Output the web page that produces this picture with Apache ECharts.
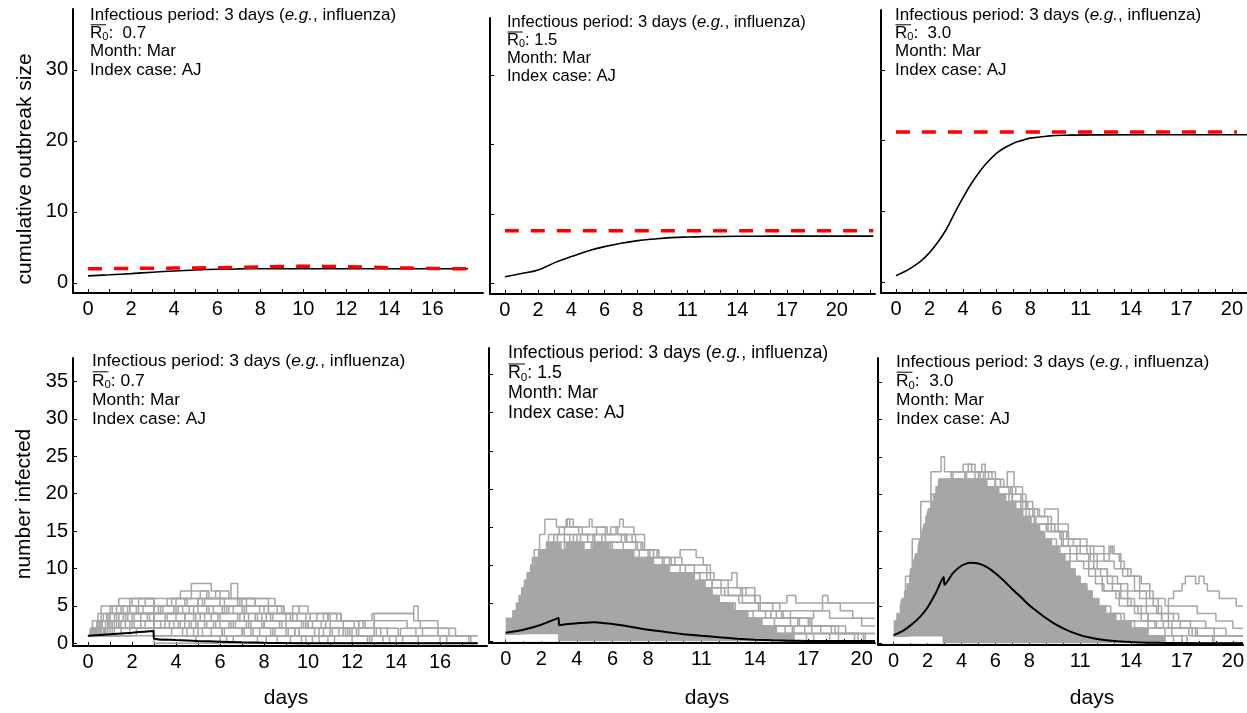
<!DOCTYPE html>
<html>
<head>
<meta charset="utf-8">
<script src="https://cdn.jsdelivr.net/npm/echarts@6/dist/echarts.min.js"></script>
<style>
  html, body { margin: 0; background: #fff; }
  #chart { width: 1247px; height: 713px; }
</style>
</head>
<body>
<div id="chart"></div>
<script>
// ---- top row: cumulative outbreak size (mean) and expected final size (red dashed)
const cumMean07 = [[0,1.0],[1,1.15],[2,1.32],[3,1.52],[4,1.69],[5,1.83],[6,1.93],[7,1.98],[8,2.0],[12,2.0],[17.65,2.0]];
const cumFinal07 = [[0,2.0],[2,2.05],[4,2.1],[6,2.15],[8,2.25],[10,2.35],[12,2.3],[14,2.15],[16,2.05],[17.65,2.0]];
const cumMean15 = [[0,0.95],[1,1.4],[2,1.92],[3,2.98],[4,3.85],[5,4.67],[6,5.29],[7,5.78],[8,6.16],[9,6.4],[10,6.59],[11,6.68],[12,6.73],[14,6.78],[16,6.8],[22.2,6.8]];
const cumFinal15 = [[0,7.6],[22.2,7.6]];
const cumMean30 = [[0,0.95],[0.5,1.5],[1,2.2],[1.5,3.05],[2,4.2],[2.5,5.7],[3,7.5],[3.5,9.8],[4,12.0],[4.5,14.0],[5,15.7],[5.5,17.1],[6,18.25],[6.5,19.05],[7,19.66],[7.5,20.05],[8,20.37],[9,20.65],[10,20.78],[12,20.83],[20.9,20.85]];
const cumFinal30 = [[0,21.25],[20.3,21.25]];

// ---- bottom row: number infected, mean (black) and single runs (grey)
const infMean07 = [[0,1.0],[1,1.2],[2,1.42],[2.97,1.65],[3.0,0.62],[4,0.45],[5,0.32],[6,0.22],[7,0.13],[8,0.06],[9,0.03],[10,0.02],[12,0.01],[14,0],[17.7,0]];
const infMean15 = [[0,1.1],[1,1.5],[2,2.15],[2.97,3.05],[3.0,2.1],[3.5,2.25],[4,2.35],[5,2.5],[6,2.25],[7,1.9],[8,1.5],[9,1.2],[10,0.92],[11,0.7],[12,0.5],[13,0.33],[14,0.2],[15,0.11],[16,0.06],[17,0.03],[18,0.02],[20.75,0.01]];
const infMean30 = [[0,1.1],[0.5,1.6],[1,2.4],[1.5,3.4],[2,4.8],[2.5,6.8],[2.95,8.9],[3.0,7.85],[3.5,9.4],[4,10.4],[4.5,10.8],[5,10.7],[5.5,10.2],[6,9.4],[6.5,8.4],[7,7.25],[7.5,6.2],[8,5.1],[8.5,4.2],[9,3.35],[9.5,2.6],[10,2.0],[10.5,1.5],[11,1.1],[11.5,0.8],[12,0.58],[13,0.3],[14,0.16],[15,0.08],[16,0.04],[18,0.01],[20.6,0]];

// densest part of the run cloud (upper edge), R0 1.5 and 3.0
const infCore15 = [[0,3],[0.4,4],[0.6,5],[0.75,6],[0.9,7],[1.05,8],[1.2,9],[1.4,10],[1.6,11],[1.85,12],[2.3,13],[3.1,12],[3.4,13],[4.4,12],[4.9,13],[5.8,12],[7.2,11],[8.3,10],[9.2,9],[10.6,8],[11.2,7],[11.6,6],[12.0,5],[12.8,4],[13.6,3],[14.4,2],[15.2,1],[16.2,0]];
const infCore30 = [[0,3],[0.2,4],[0.4,5],[0.5,6],[0.65,7],[0.8,8],[0.95,9],[1.05,10],[1.2,11],[1.3,12],[1.45,13],[1.55,14],[1.7,15],[1.8,16],[1.95,17],[2.05,18],[2.2,19],[2.35,20],[2.5,21],[2.65,22],[5.5,21],[6.2,20],[6.6,19],[7.2,18],[7.6,17],[8.1,16],[8.6,15],[8.9,14],[9.3,13],[9.7,12],[10.1,11],[10.4,10],[10.7,9],[11.0,8],[11.4,7],[11.7,6],[12.1,5],[12.5,4],[13.1,3],[14.0,2],[15.0,1],[16.0,0]];
// nobody recovers before the index case (day 3): no run sits below 1 then
const noRecovery15 = [[0,0.9],[2.93,0.9]];
const noRecovery30 = [[0,0.9],[2.88,0.9]];

const infRuns07 = [
  [[0,1],[0.3,2],[0.8,3],[1.3,4],[1.9,6],[4.7,8],[5.6,7],[6.0,6],[6.5,8],[6.8,6],[8.5,5],[8.9,4],[10.1,3],[11.0,2],[12.3,1],[13.4,0],[17.7,0]],
  [[0,1],[0.2,3],[0.6,5],[2.0,6],[3.0,5],[5.3,6],[5.8,7],[6.4,6],[8.2,4],[9.3,5],[9.6,4],[11.5,3],[12.9,4],[14.8,5],[15.0,3],[15.9,2],[16.7,1],[17.7,1]],
  [[0,1],[0.4,2],[0.9,4],[1.6,5],[3.0,4],[4.1,5],[5.0,4],[6.3,5],[7.1,3],[8.0,2],[9.4,1],[10.5,0],[17.7,0]],
  [[0,1],[0.5,2],[1.1,3],[2.4,4],[3.0,3],[3.6,4],[4.4,3],[5.7,2],[7.4,1],[8.6,0],[17.7,0]],
  [[0,1],[0.8,2],[1.7,3],[3.0,2],[4.2,3],[5.1,4],[6.0,3],[7.6,4],[8.3,3],[9.9,2],[11.8,1],[12.7,0],[17.7,0]],
  [[0,1],[0.3,2],[2.6,3],[3.0,2],[4.8,1],[5.6,2],[7.0,1],[9.2,0],[17.7,0]],
  [[0,1],[1.0,2],[1.4,3],[2.8,4],[3.0,3],[4.6,2],[6.1,1],[7.7,0],[17.7,0]],
  [[0,1],[0.15,2],[0.45,4],[1.3,5],[2.6,6],[3.0,5],[4.0,6],[5.2,5],[6.6,4],[7.2,5],[8.0,4],[9.0,3],[10.7,4],[11.3,3],[12.3,2],[13.6,1],[15.2,2],[15.9,1],[17.3,0],[17.7,0]],
  [[0,1],[1.9,2],[3.0,1],[4.9,0],[17.7,0]],
  [[0,1],[0.6,2],[1.5,3],[3.0,2],[3.3,3],[5.4,2],[6.7,3],[7.9,2],[9.1,1],[10.9,0],[17.7,0]],
  [[0,1],[2.2,2],[3.0,1],[3.8,2],[4.5,1],[6.3,0],[17.7,0]],
  [[0,1],[0.2,2],[0.5,3],[0.7,4],[1.9,5],[3.0,4],[4.0,5],[5.0,6],[6.9,5],[8.2,4],[9.2,3],[10.4,4],[11.0,3],[12.5,2],[13.0,4],[14.8,3],[15.1,2],[16.4,1],[17.7,1]],
  [[0,1],[0.9,2],[2.0,3],[3.0,2],[4.3,1],[5.2,2],[6.1,1],[8.1,0],[17.7,0]],
  [[0,1],[0.4,3],[1.2,4],[2.3,5],[3.0,4],[3.9,5],[4.8,4],[5.9,3],[6.9,4],[7.9,3],[9.0,2],[10.0,3],[10.8,2],[11.9,1],[13.1,2],[14.1,1],[16.3,0],[17.7,0]],
  [[0,1],[1.2,2],[3.0,1],[6.0,0],[17.7,0]],
  [[0,1],[3.0,0],[17.7,0]],
  [[0,1],[0.7,2],[1.0,3],[2.1,4],[3.0,3],[3.5,4],[4.9,3],[6.4,2],[7.3,3],[8.7,2],[9.6,1],[11.4,2],[12.2,1],[14.0,0],[17.7,0]],
  [[0,1],[0.25,2],[0.55,3],[0.85,4],[1.1,5],[3.0,4],[3.2,5],[4.4,6],[5.1,7],[5.5,6],[7.2,5],[8.6,4],[9.5,3],[10.2,2],[11.6,3],[12.6,2],[13.0,3],[14.5,2],[15.9,1],[17.4,0],[17.7,0]],
  [[0,1],[0.5,2],[1.4,4],[3.0,3],[4.1,2],[5.0,3],[5.8,2],[7.5,1],[9.9,0],[17.7,0]],
  [[0,1],[1.5,2],[2.4,3],[3.0,2],[3.9,3],[4.7,2],[6.2,1],[7.0,2],[7.8,1],[9.7,0],[17.7,0]],
  [[0,1],[0.35,2],[0.65,3],[1.6,4],[2.5,5],[3.0,4],[4.6,5],[5.5,4],[6.2,5],[7.0,4],[7.7,3],[8.8,2],[9.7,3],[10.6,2],[11.7,1],[12.9,0],[17.7,0]],
  [[0,1],[0.1,2],[0.4,3],[1.0,4],[1.5,5],[3.0,4],[3.4,5],[4.3,4],[5.4,5],[6.1,4],[7.3,3],[8.1,4],[9.3,3],[10.0,2],[11.1,1],[12.0,0],[17.7,0]],
  [[0,1],[0.45,2],[1.2,3],[1.8,4],[3.0,3],[3.7,2],[4.9,3],[6.5,2],[7.1,1],[8.4,2],[9.4,1],[11.2,0],[17.7,0]],
  [[0,1],[0.55,2],[0.95,3],[1.7,4],[2.2,5],[3.0,4],[3.3,5],[5.0,6],[6.0,5],[6.8,6],[7.6,5],[8.9,4],[9.9,3],[10.9,4],[11.5,3],[12.1,2],[13.3,1],[14.3,0],[17.7,0]],
  [[0,1],[0.75,2],[1.3,3],[2.0,4],[3.0,3],[4.4,2],[5.3,3],[6.6,2],[8.3,1],[10.2,0],[17.7,0]],
  [[0,1],[0.3,2],[0.9,3],[1.8,5],[2.3,6],[3.0,5],[3.8,6],[4.5,5],[5.7,4],[6.4,5],[7.8,4],[8.4,3],[9.8,2],[10.5,1],[11.0,2],[12.0,1],[13.7,0],[17.7,0]],
  [[0,1],[0.2,2],[1.1,3],[2.7,4],[3.0,3],[4.0,4],[4.8,3],[5.6,4],[6.8,3],[7.4,2],[8.5,1],[9.0,2],[10.3,1],[12.8,0],[17.7,0]],
  [[0,1],[1.1,2],[1.9,3],[3.0,2],[3.5,3],[4.4,4],[5.3,3],[6.0,2],[7.2,3],[8.0,2],[9.6,1],[10.7,2],[11.6,1],[15.0,0],[17.7,0]],
  [[0,1],[0.6,3],[1.0,5],[1.4,6],[3.0,5],[3.6,6],[4.2,7],[5.4,6],[6.2,5],[7.0,6],[7.6,5],[8.8,4],[9.6,5],[10.0,4],[10.9,3],[12.3,2],[13.0,1],[14.2,2],[14.9,1],[16.0,0],[17.7,0]],
  [[0,1],[0.8,2],[2.1,3],[3.0,2],[5.0,1],[6.6,0],[17.7,0]]
];

const infRuns15 = [
  [[0,1],[0.5,3],[1.0,7],[1.5,11],[1.9,14],[2.2,16],[2.85,15],[3.4,16],[3.8,15],[4.3,14],[5.0,13],[6.0,12],[7.0,11],[8.0,10],[9.0,9],[10.0,7],[11.0,5],[12.0,4],[13.0,2],[14.5,1],[15.5,0],[20.75,0]],
  [[0,1],[0.6,4],[1.1,8],[1.6,12],[2.4,14],[3.0,15],[3.45,16],[3.6,15],[4.7,16],[4.85,15],[5.7,14],[6.2,15],[6.4,16],[6.6,15],[7.2,14],[7.8,12],[8.3,11],[9.8,12],[10.7,11],[11.1,10],[11.5,8],[12.7,9],[13.0,7],[14.0,5],[15.8,6],[16.3,5],[18.8,4],[19.5,3],[20.75,3]],
  [[0,1],[0.4,2],[0.9,5],[1.3,8],[1.8,11],[2.3,13],[2.9,14],[3.6,13],[4.2,14],[5.9,15],[6.3,14],[7.1,13],[7.6,12],[8.6,11],[9.2,10],[11.3,9],[11.7,8],[12.5,7],[13.2,6],[14.0,5],[15.0,4],[16.0,3],[17.0,2],[18.5,1],[19.6,0],[20.75,0]],
  [[0,1],[0.7,3],[1.3,6],[1.9,9],[2.5,12],[3.0,13],[3.8,14],[4.6,13],[5.4,14],[6.8,13],[7.4,12],[8.1,11],[8.9,10],[9.5,11],[9.9,10],[10.6,9],[11.3,8],[12.1,6],[13.1,5],[15.4,4],[17.0,4],[17.8,6],[18.1,5],[20.75,5]],
  [[0,1],[0.3,2],[0.8,4],[1.4,7],[2.0,10],[2.5,12],[3.3,14],[4.0,13],[4.9,14],[5.6,13],[6.5,14],[7.3,12],[8.0,11],[8.8,10],[9.8,9],[10.9,8],[11.6,7],[12.3,6],[13.3,7],[13.5,6],[14.3,4],[15.6,3],[17.1,2],[18.7,1],[20.2,0],[20.75,0]],
  [[0,1],[0.5,2],[1.1,5],[1.7,9],[2.4,11],[3.1,12],[3.9,13],[4.8,12],[5.9,13],[6.6,12],[7.5,10],[8.4,9],[9.1,8],[10.2,7],[11.0,6],[12.0,5],[12.9,4],[13.9,3],[15.1,2],[16.4,3],[17.2,2],[18.3,1],[20.75,1]],
  [[0,1],[0.8,3],[1.6,6],[2.6,9],[3.5,10],[5.0,11],[6.5,10],[8.0,8],[9.5,7],[10.8,6],[11.9,5],[12.6,4],[14.6,3],[16.5,2],[19.1,1],[20.1,0],[20.75,0]],
  [[0,1],[1.0,3],[2.0,6],[3.0,7],[4.5,8],[6.0,7],[7.5,6],[9.0,5],[10.5,4],[12.0,3],[14.0,2],[16.2,1],[18.7,0],[20.75,0]],
  [[0,1],[0.6,2],[1.5,4],[2.5,5],[4.0,6],[6.0,5],[8.0,4],[10.0,3],[11.5,2],[14.3,1],[16.9,0],[20.75,0]],
  [[0,1],[0.9,2],[2.2,4],[3.3,5],[5.2,6],[7.0,5],[8.5,4],[11.0,5],[12.2,4],[13.4,3],[14.9,4],[15.5,3],[17.3,4],[18.2,3],[20.0,2],[20.75,2]],
  [[0,1],[1.3,2],[2.7,3],[4.4,4],[6.5,3],[8.8,2],[11.2,1],[15.0,2],[16.1,1],[20.75,1]],
  [[0,1],[0.7,2],[1.8,3],[3.0,4],[4.8,5],[6.3,4],[7.8,3],[9.6,2],[11.0,3],[12.4,2],[14.7,1],[17.3,0],[20.75,0]],
  [[0,1],[0.4,3],[1.2,5],[2.1,7],[3.2,9],[4.2,10],[5.6,9],[7.0,8],[8.4,7],[9.9,6],[11.3,5],[12.3,3],[13.9,2],[15.7,1],[16.8,2],[17.7,1],[19.8,0],[20.75,0]],
  [[0,1],[0.5,3],[1.0,6],[1.5,9],[2.1,12],[2.7,14],[3.3,15],[4.1,14],[5.1,15],[5.6,14],[6.7,13],[7.7,12],[8.5,11],[9.3,10],[10.1,9],[10.9,8],[11.6,7],[12.5,6],[13.3,5],[14.2,4],[15.2,3],[16.0,2],[17.2,1],[18.2,0],[20.75,0]]
];

const infRuns30 = [
  [[0,1],[0.3,4],[0.7,9],[1.1,14],[1.6,19],[2.2,23],[2.8,25],[3.0,23],[4.1,24],[4.8,23],[5.2,24],[5.4,23],[6.0,21],[6.7,23],[7.1,21],[7.6,19],[8.2,17],[8.9,18],[9.7,16],[10.3,14],[11.0,12],[11.8,10],[12.6,8],[13.4,6],[14.2,4],[15.0,2],[16.0,1],[17.0,0],[20.6,0]],
  [[0,1],[0.4,3],[0.9,7],[1.4,12],[2.0,17],[2.6,21],[3.2,22],[4.2,23],[5.0,22],[6.0,20],[7.0,18],[8.0,16],[9.5,15],[10.3,13],[12.4,12],[12.8,13],[13.0,12],[13.4,10],[13.8,9],[14.5,7],[15.3,5],[15.8,3],[16.2,6],[16.5,7],[17.0,8],[17.2,9],[17.8,8],[18.0,9],[18.3,8],[18.5,7],[19.2,6],[20.2,5],[20.6,5]],
  [[0,1],[0.5,5],[1.0,10],[1.6,15],[2.2,20],[2.7,22],[3.4,23],[4.4,24],[4.6,23],[5.6,22],[6.3,21],[7.0,19],[7.8,17],[8.4,16],[9.1,15],[10.0,13],[11.8,12],[12.4,11],[12.7,13],[12.9,12],[13.3,11],[13.6,10],[14.0,9],[14.6,8],[15.1,6],[15.6,4],[16.5,3],[17.5,2],[18.9,1],[20.6,1]],
  [[0,1],[0.6,4],[1.2,9],[1.8,14],[2.4,19],[3.0,21],[3.6,22],[4.8,23],[5.4,22],[6.3,21],[6.9,20],[7.5,18],[8.3,16],[9.0,15],[9.8,14],[10.6,13],[11.6,11],[12.0,10],[12.6,9],[13.2,8],[13.8,7],[14.5,6],[16.0,5],[17.9,4],[19.0,3],[20.0,2],[20.6,2]],
  [[0,1],[0.7,3],[1.4,7],[2.2,11],[3.2,13],[4.5,14],[6.0,13],[7.5,11],[9.0,9],[10.5,7],[11.7,5],[12.8,4],[13.6,3],[15.5,2],[17.9,1],[20.6,1]],
  [[0,1],[0.8,2],[1.6,5],[2.6,8],[3.6,10],[5.0,11],[6.5,10],[8.0,8],[9.5,6],[11.0,5],[12.2,4],[13.4,3],[14.2,2],[15.9,3],[16.4,2],[17.4,1],[18.9,0],[20.6,0]],
  [[0,1],[0.4,3],[1.0,8],[1.5,13],[2.1,18],[2.7,22],[3.5,23],[4.2,22],[5.3,23],[5.8,22],[6.5,21],[7.2,20],[7.8,18],[8.6,17],[9.1,16],[9.7,15],[10.2,14],[11.4,12],[12.0,11],[13.0,10],[13.5,9],[14.2,7],[14.9,5],[15.5,4],[16.8,3],[18.4,2],[19.6,1],[20.6,1]],
  [[0,1],[0.5,4],[1.1,8],[1.7,12],[2.5,16],[3.3,18],[4.6,19],[5.8,18],[6.9,16],[8.0,14],[8.9,13],[9.8,12],[10.8,11],[11.5,9],[12.3,7],[13.1,6],[14.0,5],[14.9,4],[15.8,3],[16.9,2],[17.6,1],[20.6,1]],
  [[0,1],[0.9,3],[1.8,6],[2.8,9],[4.0,11],[5.5,10],[7.0,8],[8.5,6],[10.0,4],[11.5,3],[13.2,2],[14.7,1],[16.5,0],[20.6,0]],
  [[0,1],[0.6,5],[1.2,11],[1.9,17],[2.6,21],[3.8,22],[5.0,21],[6.1,20],[7.0,19],[7.9,18],[8.5,17],[9.3,15],[9.9,13],[10.8,12],[11.5,10],[12.2,9],[12.9,7],[13.8,5],[14.6,3],[15.4,2],[16.4,1],[17.3,0],[20.6,0]],
  [[0,1],[0.5,4],[1.1,9],[1.7,15],[2.4,20],[3.1,22],[4.3,23],[5.1,22],[6.0,21],[6.8,19],[7.6,17],[8.3,15],[8.8,14],[9.6,13],[10.4,11],[11.2,10],[11.9,8],[12.4,7],[13.3,5],[14.4,4],[15.0,3],[16.2,2],[17.8,1],[18.8,0],[20.6,0]]
];

// ---- axis ticks and labels
const xTicks17 = [0,1,2,3,4,5,6,7,8,9,10,11,12,13,14,15,16,17];
const xTicks20 = [0,1,2,3,4,5,6,7,8,9,10,11,12,13,14,15,16,17,18,19,20];
const xTicks22 = [0,1,2,3,4,5,6,7,8,9,10,11,12,13,14,15,16,17,18,19,20,21,22];
const xLabelsShort = [0,2,4,6,8,10,12,14,16];
const xLabelsLong = [0,2,4,6,8,11,14,17,20];
const yTicksTop = [0,10,20,30];
const yTicksBottom = [0,5,10,15,20,25,30,35];
const r0Labels = ['0.7', '1.5', '3.0'];

const FONT = 'Liberation Sans, Arial, Helvetica, sans-serif';
const GREY = '#a6a6a6';

const panels = [
  { grid: { left: 73, top: 9, width: 410, height: 284 }, x: [-0.70, 18.35], y: [-1.41, 38.56], xt: xTicks17, xl: xLabelsShort, yt: yTicksTop, yl: true },
  { grid: { left: 490, top: 18, width: 385, height: 276 }, x: [-0.90, 22.3], y: [-1.55, 38.3], xt: xTicks22, xl: xLabelsLong, yt: yTicksTop, yl: false },
  { grid: { left: 881, top: 10, width: 366, height: 283 }, x: [-0.89, 20.9], y: [-1.5, 38.46], xt: xTicks20, xl: xLabelsLong, yt: yTicksTop, yl: false },
  { grid: { left: 73, top: 358, width: 414, height: 288 }, x: [-0.68, 18.13], y: [-0.36, 38.15], xt: xTicks17, xl: xLabelsShort, yt: yTicksBottom, yl: true },
  { grid: { left: 489, top: 348, width: 386, height: 295 }, x: [-0.94, 20.75], y: [-0.24, 38.5], xt: xTicks20, xl: xLabelsLong, yt: yTicksBottom, yl: false },
  { grid: { left: 878, top: 358, width: 369, height: 287 }, x: [-0.92, 20.6], y: [-0.23, 38.26], xt: xTicks20, xl: xLabelsLong, yt: yTicksBottom, yl: false }
];

const axisLine = { show: true, onZero: false, lineStyle: { color: '#000', width: 2 } };
const xAxis = panels.map((p, i) => ({
  type: 'value', gridIndex: i, min: p.x[0], max: p.x[1],
  axisLine: axisLine,
  axisTick: { show: true, inside: true, length: 4, customValues: p.xt, lineStyle: { color: '#000', width: 1 } },
  axisLabel: { customValues: p.xl, color: '#000', fontSize: 20, fontFamily: FONT, margin: 6 },
  splitLine: { show: false }
}));
const yAxis = panels.map((p, i) => ({
  type: 'value', gridIndex: i, min: p.y[0], max: p.y[1],
  axisLine: axisLine,
  axisTick: { show: true, inside: true, length: 4, customValues: p.yt, lineStyle: { color: '#000', width: 1 } },
  axisLabel: { show: p.yl, customValues: p.yt, color: '#000', fontSize: 20, fontFamily: FONT, margin: 5 },
  splitLine: { show: false }
}));

const series = [];
const base = { type: 'line', showSymbol: false, silent: true, animation: false };

// top row
[[cumMean07, cumFinal07], [cumMean15, cumFinal15], [cumMean30, cumFinal30]].forEach(([mean, fin], i) => {
  series.push(Object.assign({}, base, { xAxisIndex: i, yAxisIndex: i, data: mean, smooth: 0.4, z: 3,
    lineStyle: { color: '#000', width: 1.6 } }));
  series.push(Object.assign({}, base, { xAxisIndex: i, yAxisIndex: i, data: fin, smooth: 0.3, z: 4,
    lineStyle: { color: '#ff0000', width: 3.5, type: [14, 12] } }));
});

// bottom row
const bottom = [
  { runs: infRuns07, mean: infMean07, core: null, gap: null },
  { runs: infRuns15, mean: infMean15, core: infCore15, gap: noRecovery15 },
  { runs: infRuns30, mean: infMean30, core: infCore30, gap: noRecovery30 }
];
bottom.forEach((b, k) => {
  const i = k + 3;
  if (b.core) {
    series.push(Object.assign({}, base, { xAxisIndex: i, yAxisIndex: i, data: b.core, step: 'end', z: 1,
      lineStyle: { color: GREY, width: 1.5 }, areaStyle: { color: GREY, opacity: 1 } }));
    series.push(Object.assign({}, base, { xAxisIndex: i, yAxisIndex: i, data: b.gap, z: 1,
      lineStyle: { width: 0 }, areaStyle: { color: '#fff', opacity: 1 } }));
  }
  b.runs.forEach(run => {
    series.push(Object.assign({}, base, { xAxisIndex: i, yAxisIndex: i, data: run, step: 'end', z: 2,
      lineStyle: { color: GREY, width: 1.5 } }));
  });
  series.push(Object.assign({}, base, { xAxisIndex: i, yAxisIndex: i, data: b.mean, smooth: 0.2, z: 5,
    lineStyle: { color: '#000', width: 2 } }));
});

// annotation blocks: [left, top, fontSize, lineHeight, gap after colon]
const notes = [
  [90, 6, 17, 18.3, '  '], [507, 13.5, 16.6, 18, ' '], [895, 6, 17, 18.3, '  '],
  [92, 352, 17.4, 19.3, ' '], [508, 343.5, 17.8, 20, ' '], [896, 352.5, 17.4, 19.2, '  ']
];
const graphic = [];
notes.forEach((n, i) => {
  const [left, top, fs, lh, sp] = n;
  graphic.push({
    type: 'text', left: left, top: top, z: 100,
    style: {
      text: 'Infectious period: 3 days ({i|e.g.}, influenza)\n{r|R}{s|0}:' + sp + r0Labels[i % 3] + '\nMonth: Mar\nIndex case: AJ',
      fontSize: fs, fontFamily: FONT, lineHeight: lh, fill: '#000',
      rich: {
        i: { fontSize: fs, fontFamily: FONT, fontStyle: 'italic', lineHeight: lh },
        r: { fontSize: fs, fontFamily: FONT, lineHeight: lh },
        s: { fontSize: fs * 0.65, fontFamily: FONT, lineHeight: 6, verticalAlign: 'bottom' }
      }
    }
  });
  graphic.push({
    type: 'line', z: 100,
    shape: { x1: left + 0.5, y1: top + lh + 0.5, x2: left + fs * 0.95, y2: top + lh + 0.5 },
    style: { stroke: '#000', lineWidth: 1 }
  });
});
const axisTitle = (text, x, y, rot) => ({
  type: 'text', x: x, y: y, rotation: rot, z: 100,
  style: { text: text, fontSize: 21, fontFamily: FONT, fill: '#000', align: 'center', verticalAlign: 'middle' }
});
graphic.push(axisTitle('cumulative outbreak size', 25, 169, Math.PI / 2));
graphic.push(axisTitle('number infected', 24, 504, Math.PI / 2));
graphic.push(axisTitle('days', 286, 698, 0));
graphic.push(axisTitle('days', 707, 698, 0));
graphic.push(axisTitle('days', 1092, 698, 0));

const chart = echarts.init(document.getElementById('chart'), null, { renderer: 'canvas' });
chart.setOption({
  animation: false,
  backgroundColor: '#fff',
  grid: panels.map(p => Object.assign({ containLabel: false }, p.grid)),
  xAxis: xAxis,
  yAxis: yAxis,
  series: series,
  graphic: graphic
});
</script>
</body>
</html>
